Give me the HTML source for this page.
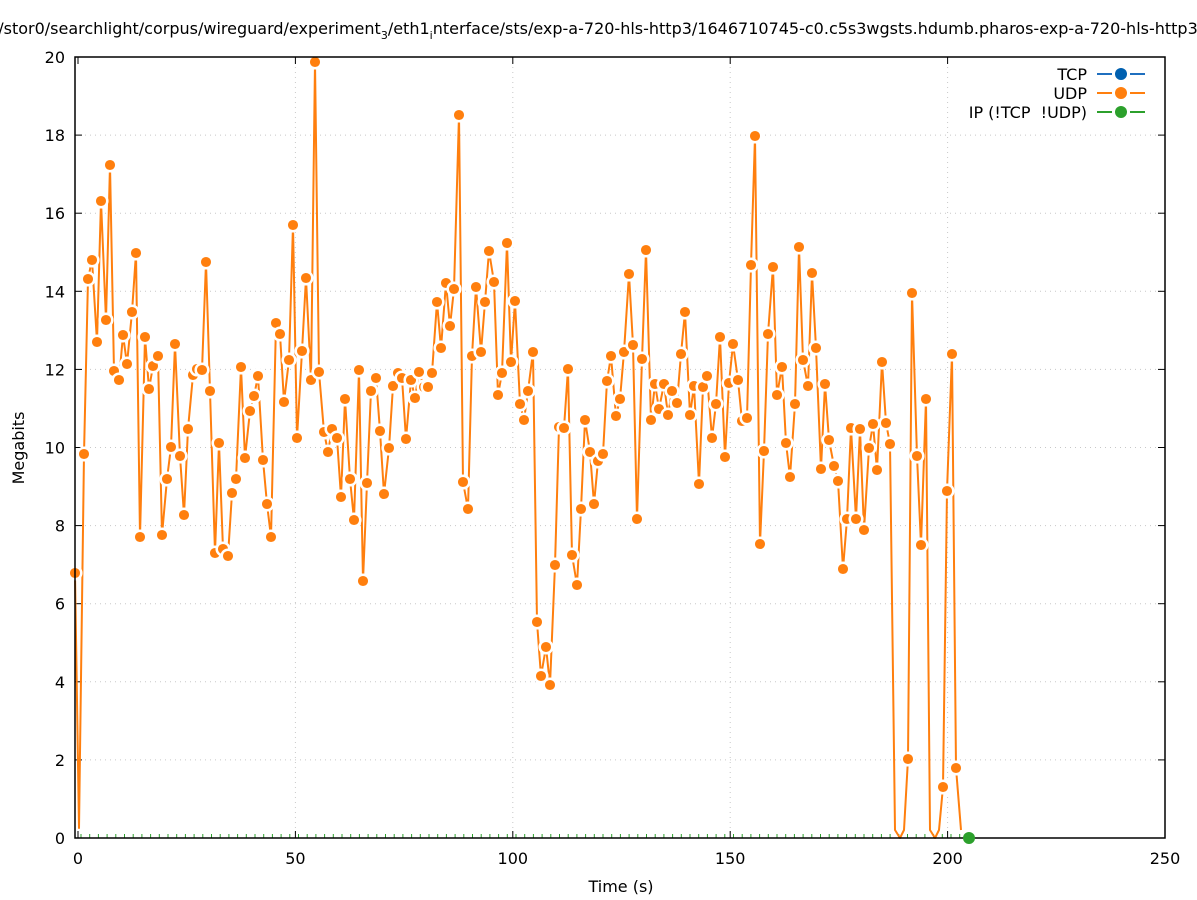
<!DOCTYPE html>
<html><head><meta charset="utf-8"><style>
body{margin:0;background:#fff}
svg{display:block;font-family:"DejaVu Sans","Liberation Sans",sans-serif}
</style></head><body>
<svg id="s" width="1197" height="900" viewBox="0 0 1197 900" xmlns="http://www.w3.org/2000/svg">
<rect width="1197" height="900" fill="#fff"/>
<g id="grid" stroke="#c8c8c8" stroke-width="1" stroke-dasharray="1,4"></g>
<text x="598" y="34" font-size="16" text-anchor="middle">/stor0/searchlight/corpus/wireguard/experiment<tspan font-size="11" dy="5">3</tspan><tspan dy="-5">/eth1</tspan><tspan font-size="11" dy="5">i</tspan><tspan dy="-5">nterface/sts/exp-a-720-hls-http3/1646710745-c0.c5s3wgsts.hdumb.pharos-exp-a-720-hls-http3</tspan></text>
<g id="ticks" font-size="16"></g>
<text x="621" y="892" font-size="16" text-anchor="middle">Time (s)</text>
<text x="24" y="448" font-size="16" text-anchor="middle" transform="rotate(-90 24 448)">Megabits</text>
<g id="green" stroke="#2ca02c" stroke-width="1"></g>
<polyline id="udp" fill="none" stroke="#ff7f0e" stroke-width="2" stroke-linejoin="round"/>
<g id="marks"></g>
<rect x="75" y="57" width="1090" height="781" fill="none" stroke="#000" stroke-width="1.5"/>
<circle cx="969" cy="838" r="6" fill="#2ca02c"/>
<g font-size="16" text-anchor="end">
<text x="1087" y="80">TCP</text><text x="1087" y="99">UDP</text><text x="1087" y="118">IP (!TCP&#160;&#160;!UDP)</text>
</g>
<g stroke-width="2">
<line x1="1097" y1="74" x2="1112" y2="74" stroke="#1f6fbf"/><line x1="1130" y1="74" x2="1145" y2="74" stroke="#1f6fbf"/><circle cx="1121" cy="74" r="6" fill="#0060b0"/>
<line x1="1097" y1="93" x2="1112" y2="93" stroke="#ff7f0e"/><line x1="1130" y1="93" x2="1145" y2="93" stroke="#ff7f0e"/><circle cx="1121" cy="93" r="6" fill="#ff7f0e"/>
<line x1="1097" y1="112" x2="1112" y2="112" stroke="#2ca02c"/><line x1="1130" y1="112" x2="1145" y2="112" stroke="#2ca02c"/><circle cx="1121" cy="112" r="6" fill="#2ca02c"/>
</g>
</svg>
<script>
var NS="http://www.w3.org/2000/svg";
function el(t,a,p){var e=document.createElementNS(NS,t);for(var k in a)e.setAttribute(k,a[k]);p.appendChild(e);return e;}
var g=document.getElementById('grid'),tk=document.getElementById('ticks');
for(var i=0;i<=5;i++){var x=78+i*217.4;
 if(i>0&&i<5)el('line',{x1:x,y1:57,x2:x,y2:838},g);
 el('line',{x1:x,y1:838,x2:x,y2:831,stroke:'#000'},tk);el('line',{x1:x,y1:57,x2:x,y2:64,stroke:'#000'},tk);
 var t=el('text',{x:x,y:864,'text-anchor':'middle'},tk);t.textContent=i*50;}
for(var j=0;j<=10;j++){var y=838-j*78.1;
 if(j>0&&j<10)el('line',{x1:75,y1:y,x2:1165,y2:y},g);
 el('line',{x1:75,y1:y,x2:82,y2:y,stroke:'#000'},tk);el('line',{x1:1165,y1:y,x2:1158,y2:y,stroke:'#000'},tk);
 var t=el('text',{x:65,y:y+6,'text-anchor':'end'},tk);t.textContent=j*2;}
var gr=document.getElementById('green');
for(var x=81;x<965;x+=8.7)el('line',{x1:x,y1:834,x2:x,y2:838},gr);
var P=[[75,573],[79,828,0],[84,454],[88,279],[92,260],[97,342],[101,201],[106,320],[110,165],[114,371],[119,380],[123,335],[127,364],[132,312],[136,253],[140,537],[145,337],[149,389],[153,366],[158,356],[162,535],[167,479],[171,447],[175,344],[180,456],[184,515],[188,429],[193,375],[197,369],[202,370],[206,262],[210,391],[215,553],[219,443],[223,549],[228,556],[232,493],[236,479],[241,367],[245,458],[250,411],[254,396],[258,376],[263,460],[267,504],[271,537],[276,323],[280,334],[284,402],[289,360],[293,225],[297,438],[302,351],[306,278],[311,380],[315,62],[319,372],[324,432],[328,452],[332,429],[337,438],[341,497],[345,399],[350,479],[354,520],[359,370],[363,581],[367,483],[371,391],[376,378],[380,431],[384,494],[389,448],[393,386],[398,373],[402,378],[406,439],[411,380],[415,398],[419,372],[424,387],[428,387],[432,373],[437,302],[441,348],[446,283],[450,326],[454,289],[459,115],[463,482],[468,509],[472,356],[476,287],[481,352],[485,302],[489,251],[494,282],[498,395],[502,373],[507,243],[511,362],[515,301],[520,404],[524,420],[528,391],[533,352],[537,622],[541,676],[546,647],[550,685],[555,565],[559,427],[564,428],[568,369],[572,555],[577,585],[581,509],[585,420],[590,452],[594,504],[598,461],[603,454],[607,381],[611,356],[616,416],[620,399],[624,352],[629,274],[633,345],[637,519],[642,359],[646,250],[651,420],[655,384],[659,409],[664,384],[668,415],[672,391],[677,403],[681,354],[685,312],[690,415],[694,386],[699,484],[703,387],[707,376],[712,438],[716,404],[720,337],[725,457],[729,383],[733,344],[738,380],[742,421],[747,418],[751,265],[755,136],[760,544],[764,451],[768,334],[773,267],[777,395],[782,367],[786,443],[790,477],[795,404],[799,247],[803,360],[808,386],[812,273],[816,348],[821,469],[825,384],[829,440],[834,466],[838,481],[843,569],[847,519],[851,428],[856,519],[860,429],[864,530],[869,448],[873,424],[877,470],[882,362],[886,423],[890,444],[895,830,0],[900,838,0],[904,830,0],[908,759],[912,293],[917,456],[921,545],[926,399],[930,830,0],[935,838,0],[939,830,0],[943,787],[947,491],[952,354],[956,768],[961,830,0]];
document.getElementById('udp').setAttribute('points',P.map(function(p){return p[0]+','+p[1]}).join(' '));
var m=document.getElementById('marks');
P.forEach(function(p){if(p.length<3)el('circle',{cx:p[0],cy:p[1],r:6.3,fill:'#ff7f0e',stroke:'#fff','stroke-width':2.5},m);});
</script>
</body></html>
